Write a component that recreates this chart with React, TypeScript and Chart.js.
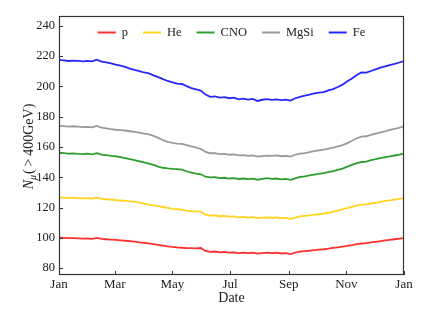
import React, { useEffect, useRef } from 'react';
import { Chart, registerables } from 'chart.js';

Chart.register(...registerables);

const FONT = '"Liberation Serif", "Times New Roman", serif';

const days = [
  0, 5, 10, 15, 20, 25, 30, 35, 40, 45, 50, 55, 60, 65, 70, 75, 80, 85, 90, 95,
  100, 105, 110, 115, 120, 125, 130, 135, 140, 145, 150, 155, 160, 165, 170, 175, 180, 185, 190, 195,
  200, 205, 210, 215, 220, 225, 230, 235, 240, 245, 250, 255, 260, 265, 270, 275, 280, 285, 290, 295,
  300, 305, 310, 315, 320, 325, 330, 335, 340, 345, 350, 355, 360, 365,
];

const pVals = [
  100.2, 100.0, 99.8, 99.9, 99.7, 99.5, 99.6, 99.4, 100.0, 99.3, 99.1, 98.9, 98.7, 98.4, 98.1, 97.8, 97.5, 97.1, 96.8, 96.4,
  95.9, 95.4, 94.9, 94.4, 94.0, 93.7, 93.5, 93.3, 93.2, 93.1, 93.3, 91.4, 90.8, 91.0, 90.5, 90.7, 90.3, 90.5, 90.0, 90.3,
  89.9, 90.2, 89.6, 90.0, 90.3, 90.0, 90.2, 89.7, 89.9, 89.3, 90.2, 90.9, 91.2, 91.5, 91.9, 92.2, 92.5, 92.9, 93.4, 93.8,
  94.2, 94.7, 95.3, 95.9, 96.3, 96.5, 97.0, 97.4, 97.8, 98.3, 98.7, 99.1, 99.5, 99.9,
];

const heVals = [
  126.8, 126.6, 126.4, 126.5, 126.3, 126.1, 126.3, 126.0, 126.6, 125.8, 125.5, 125.2, 125.0, 124.7, 124.4, 124.1, 123.9, 123.3, 122.6, 122.0,
  121.4, 120.9, 120.4, 119.8, 119.2, 118.9, 118.6, 118.0, 117.6, 117.5, 117.3, 115.4, 114.7, 114.9, 114.3, 114.5, 114.0, 114.2, 113.6, 113.9,
  113.4, 113.7, 113.0, 113.4, 113.6, 113.3, 113.5, 113.0, 113.2, 112.6, 113.4, 114.2, 114.6, 114.9, 115.3, 115.6, 116.0, 116.6, 117.4, 118.0,
  118.8, 119.6, 120.5, 121.3, 121.9, 122.1, 122.7, 123.2, 123.8, 124.4, 124.8, 125.3, 125.8, 126.3,
];

const cnoVals = [
  156.2, 155.9, 155.6, 155.8, 155.5, 155.3, 155.6, 155.2, 156.0, 155.0, 154.6, 154.2, 153.9, 153.4, 152.7, 152.0, 151.4, 150.6, 149.9, 149.1,
  148.2, 147.1, 146.3, 145.9, 145.6, 145.4, 145.1, 144.0, 143.1, 142.5, 142.0, 140.4, 139.9, 140.1, 139.5, 139.7, 139.2, 139.5, 138.9, 139.2,
  138.8, 139.1, 138.4, 138.9, 139.4, 139.0, 139.2, 138.7, 138.9, 138.3, 139.3, 140.2, 140.6, 141.2, 141.8, 142.2, 142.7, 143.5, 144.1, 144.9,
  145.8, 147.0, 148.2, 149.3, 150.1, 150.4, 151.4, 152.0, 152.7, 153.3, 153.8, 154.4, 155.0, 155.6,
];

const mgsiVals = [
  174.0, 173.8, 173.5, 173.7, 173.4, 173.1, 173.3, 173.0, 173.9, 172.8, 172.3, 171.8, 171.4, 171.2, 170.9, 170.4, 170.0, 169.5, 168.9, 168.4,
  167.3, 166.0, 164.5, 163.4, 162.7, 162.3, 162.1, 161.2, 160.4, 159.6, 158.7, 156.8, 155.9, 156.0, 155.3, 155.4, 154.9, 155.1, 154.5, 154.7,
  154.2, 154.5, 153.6, 154.0, 154.3, 154.1, 154.5, 153.9, 154.2, 153.7, 154.9, 155.6, 156.0, 156.6, 157.3, 157.8, 158.3, 158.9, 159.6, 160.4,
  161.3, 162.6, 164.1, 165.8, 166.9, 167.1, 168.0, 168.8, 169.6, 170.4, 171.3, 171.9, 172.8, 173.5,
];

const feVals = [
  217.5, 217.2, 216.8, 217.1, 216.9, 216.6, 216.9, 216.5, 217.6, 216.4, 215.9, 215.2, 214.4, 213.8, 212.9, 211.8, 210.9, 210.1, 209.2, 208.6,
  207.3, 206.1, 204.8, 203.6, 202.7, 201.8, 201.6, 200.2, 198.9, 198.1, 197.3, 194.6, 193.1, 193.4, 192.6, 192.9, 192.2, 192.6, 191.5, 191.9,
  191.3, 191.8, 190.4, 191.2, 191.6, 191.1, 191.4, 190.9, 191.3, 190.6, 192.2, 193.1, 193.9, 194.6, 195.4, 195.9, 196.3, 197.4, 198.2, 199.6,
  201.2, 203.4, 205.3, 207.6, 209.2, 209.1, 210.2, 211.3, 212.4, 213.2, 214.1, 214.9, 215.8, 216.7,
];

const seriesNames = ['p', 'He', 'CNO', 'MgSi', 'Fe'];
const seriesColors = ['#ff3030', '#ffd320', '#2e9e2e', '#9a9a9a', '#2626ff'];
const seriesValues = [pVals, heVals, cnoVals, mgsiVals, feVals];

const xTickDays = [0, 59, 120, 181, 243, 304, 365];
const xTickLabels = ['Jan', 'Mar', 'May', 'Jul', 'Sep', 'Nov', 'Jan'];
const yTicks = [80, 100, 120, 140, 160, 180, 200, 220, 240];

const decor = {
  id: 'decor',
  afterDraw(chart: any) {
    const { ctx, chartArea: a, scales } = chart;
    ctx.save();
    ctx.strokeStyle = '#333333';
    ctx.lineWidth = 1;
    // inward ticks
    ctx.beginPath();
    scales.x.ticks.forEach((t: any) => {
      const px = Math.round(scales.x.getPixelForValue(t.value)) + 0.5;
      ctx.moveTo(px, a.bottom);
      ctx.lineTo(px, a.bottom - 4);
    });
    scales.y.ticks.forEach((t: any) => {
      const py = Math.round(scales.y.getPixelForValue(t.value)) + 0.5;
      ctx.moveTo(a.left, py);
      ctx.lineTo(a.left + 4, py);
    });
    ctx.stroke();
    // frame
    ctx.lineWidth = 1.2;
    ctx.strokeRect(Math.round(a.left) + 0.5, Math.round(a.top) + 0.5, Math.round(a.right - a.left) - 1, Math.round(a.bottom - a.top) - 1);

    // legend inside the plot, horizontal
    const lfont = '12.5px ' + FONT;
    ctx.font = lfont;
    const lineW = 18;
    const gapText = 6;
    const gapItem = 15;
    const items = chart.data.datasets.map((ds: any) => ({
      label: ds.label,
      color: ds.borderColor,
      w: ctx.measureText(ds.label).width,
    }));
    let total = 0;
    items.forEach((it: any, i: number) => {
      total += lineW + gapText + it.w + (i > 0 ? gapItem : 0);
    });
    let lx = (a.left + a.right) / 2 - total / 2;
    const ly = a.top + 16.5;
    ctx.textBaseline = 'middle';
    ctx.textAlign = 'left';
    items.forEach((it: any) => {
      ctx.strokeStyle = it.color;
      ctx.lineWidth = 2;
      ctx.beginPath();
      ctx.moveTo(lx, ly);
      ctx.lineTo(lx + lineW, ly);
      ctx.stroke();
      ctx.fillStyle = '#222222';
      ctx.fillText(it.label, lx + lineW + gapText, ly);
      lx += lineW + gapText + it.w + gapItem;
    });

    // y axis title
    const big = 'italic 14px ' + FONT;
    const small = 'italic 10px ' + FONT;
    const reg = '14px ' + FONT;
    const rest = '(\u2009>\u2009400GeV)';
    ctx.font = big;
    const wN = ctx.measureText('N').width;
    ctx.font = small;
    const wMu = ctx.measureText('\u03bc').width;
    ctx.font = reg;
    const wR = ctx.measureText(rest).width;
    const totalT = wN + wMu + 1 + wR;
    ctx.translate(33, (a.top + a.bottom) / 2 + 1);
    ctx.rotate(-Math.PI / 2);
    ctx.fillStyle = '#222222';
    ctx.textBaseline = 'alphabetic';
    ctx.textAlign = 'left';
    let x = -totalT / 2;
    ctx.font = big;
    ctx.fillText('N', x, 0);
    x += wN;
    ctx.font = small;
    ctx.fillText('\u03bc', x, 3);
    x += wMu + 1;
    ctx.font = reg;
    ctx.fillText(rest, x, 0);
    ctx.restore();
  },
};

export default function App() {
  const ref = useRef<HTMLCanvasElement | null>(null);
  useEffect(() => {
    if (!ref.current) return;
    const chart = new Chart(ref.current, {
      type: 'line',
      data: {
        datasets: seriesNames.map((name, k) => ({
          label: name,
          data: days.map((d, i) => ({ x: d, y: seriesValues[k][i] })),
          borderColor: seriesColors[k],
          backgroundColor: seriesColors[k],
          borderWidth: 1.8,
          pointRadius: 0,
          tension: 0,
          fill: false,
        })),
      },
      options: {
        animation: false,
        responsive: false,
        maintainAspectRatio: false,
        layout: { padding: { left: 8, right: 17, top: 16, bottom: 13 } },
        plugins: {
          tooltip: { enabled: false },
          legend: { display: false },
        },
        scales: {
          x: {
            type: 'linear',
            min: 0,
            max: 365,
            grid: { display: false, drawTicks: false, tickLength: 0 },
            border: { display: false },
            afterBuildTicks: (s: any) => {
              s.ticks = xTickDays.map((v) => ({ value: v }));
            },
            afterFit: (s: any) => {
              s.height = 32;
            },
            ticks: {
              autoSkip: false,
              maxRotation: 0,
              padding: 2,
              color: '#222222',
              font: { family: FONT, size: 13 },
              callback: (v: any) => {
                const i = xTickDays.indexOf(Number(v));
                return i >= 0 ? xTickLabels[i] : '';
              },
            },
            title: {
              display: true,
              text: 'Date',
              color: '#222222',
              font: { family: FONT, size: 14 },
              padding: { top: 0, bottom: 0 },
            },
          },
          y: {
            type: 'linear',
            min: 75.5,
            max: 246.5,
            grid: { display: false, drawTicks: false, tickLength: 0 },
            border: { display: false },
            afterBuildTicks: (s: any) => {
              s.ticks = yTicks.map((v) => ({ value: v }));
            },
            afterFit: (s: any) => {
              s.width = 51;
            },
            ticks: {
              padding: 4,
              color: '#222222',
              font: { family: FONT, size: 12.5 },
            },
          },
        },
      },
      plugins: [decor],
    } as any);
    return () => chart.destroy();
  }, []);
  return (
    <div style={{ position: 'absolute', left: 0, top: 0, width: 421, height: 320, background: '#ffffff' }}>
      <canvas ref={ref} width={421} height={320} style={{ width: 421, height: 320, display: 'block' }} />
    </div>
  );
}
